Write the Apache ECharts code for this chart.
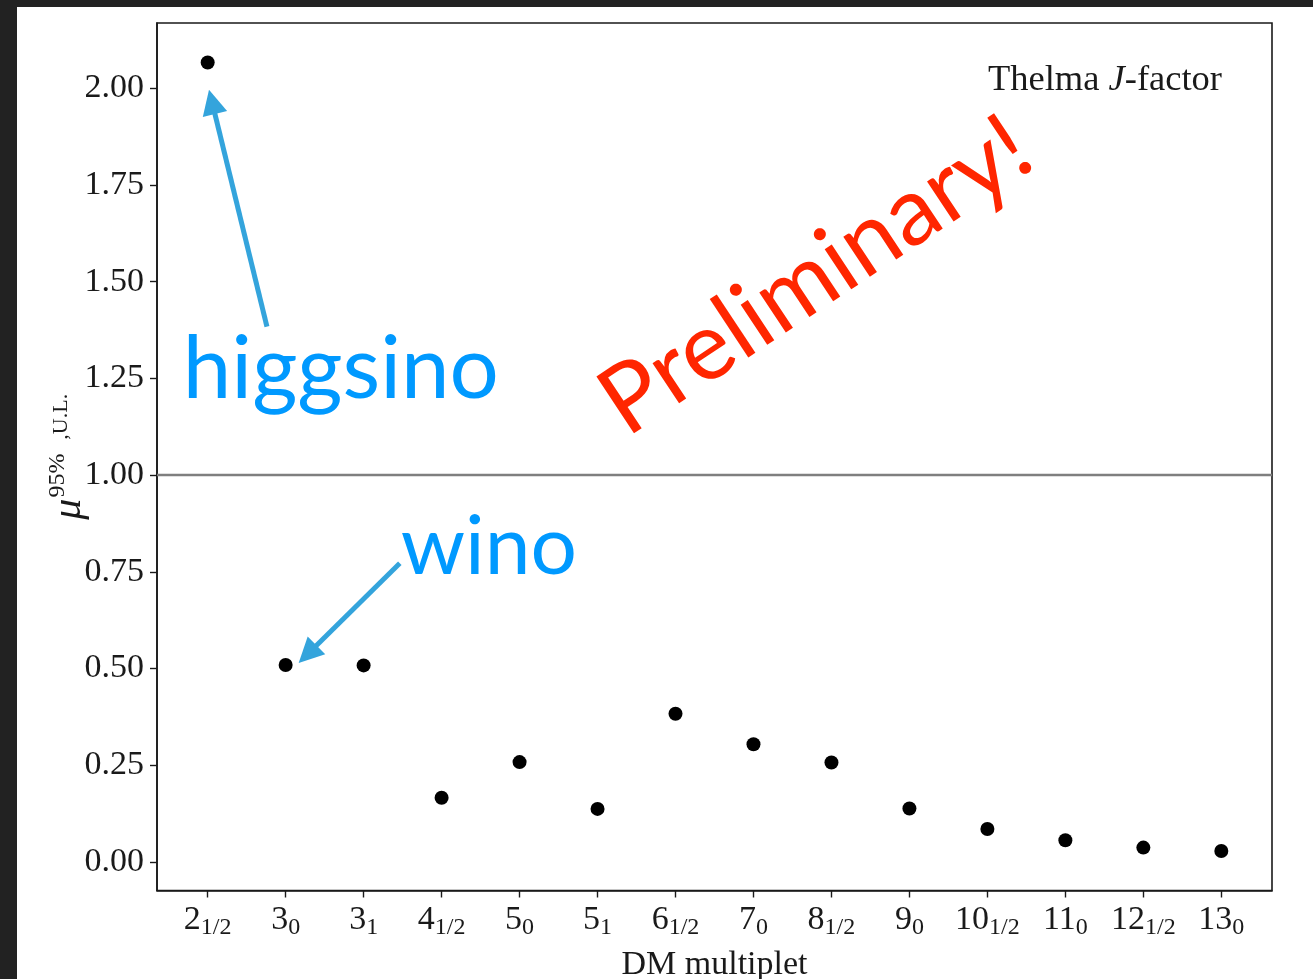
<!DOCTYPE html>
<html>
<head>
<meta charset="utf-8">
<script src="https://cdn.jsdelivr.net/npm/echarts@6/dist/echarts.min.js"></script>
<style>
  html, body { margin: 0; padding: 0; background: #222222; width: 1313px; height: 979px; overflow: hidden; }
  #chart { position: absolute; left: 17px; top: 7px; width: 1296px; height: 972px; background: #ffffff; }
</style>
</head>
<body>
<div id="chart"></div>
<script>
// DM multiplets: n with the hypercharge / spin subscript
const multipletBase = ['2', '3', '3', '4', '5', '5', '6', '7', '8', '9', '10', '11', '12', '13'];
const multipletSub  = ['1/2', '0', '1', '1/2', '0', '1', '1/2', '0', '1/2', '0', '1/2', '0', '1/2', '0'];

// 95% upper limit on the signal strength, Thelma J-factor
const muUpperLimit = [2.067, 0.509, 0.508, 0.166, 0.258, 0.137, 0.383, 0.304, 0.257, 0.138, 0.085, 0.056, 0.037, 0.028];

// y tick values
const yTicks = [0, 0.25, 0.5, 0.75, 1.0, 1.25, 1.5, 1.75, 2.0];

// exclusion threshold
const referenceLevel = 1.0;

// callouts (data coordinates)
const calloutText = ['higgsino', 'wino'];
const calloutSize = [87, 82];
const calloutAnchor = [[-0.32, 1.273], [2.475, 0.812]];
const arrowTail = [[0.76, 1.384], [2.464, 0.772]];
const arrowHead = [[0.055, 1.965], [1.281, 0.537]];

// watermark
const stampText = 'Preliminary!';
const stampAnchor = [7.80, 1.515];

const serif = '"Liberation Serif", "DejaVu Serif", serif';
const sans = 'Lato, "Open Sans", sans-serif';
const ink = '#1a1a1a';

const idx = multipletBase.map((_, i) => i);
const n = multipletBase.length;
const xPad = 0.05 * (n - 1);
const yLo = Math.min(...muUpperLimit), yHi = Math.max(...muUpperLimit);
const yPad = 0.05 * (yHi - yLo);

const chart = echarts.init(document.getElementById('chart'), null, { renderer: 'canvas' });

chart.setOption({
  animation: false,
  backgroundColor: '#ffffff',
  title: {
    text: 'Thelma {j|J}-factor',
    right: 91,
    top: 55,
    padding: 0,
    textStyle: {
      fontFamily: serif, fontSize: 36.5, fontWeight: 'normal', color: ink, lineHeight: 36,
      rich: { j: { fontFamily: serif, fontSize: 36.5, fontStyle: 'italic', color: ink, lineHeight: 36 } }
    }
  },
  grid: {
    left: 140, right: 41, top: 16, bottom: 88.5,
    outerBoundsMode: 'none',
    containLabel: false,
    show: true, borderColor: ink, borderWidth: 1.6, backgroundColor: 'transparent'
  },
  xAxis: {
    type: 'value',
    min: -xPad, max: n - 1 + xPad,
    splitLine: { show: false },
    axisLine: { onZero: false, lineStyle: { color: ink, width: 1.6 } },
    axisTick: { show: true, length: 7, customValues: idx, lineStyle: { color: ink, width: 1.4 } },
    axisLabel: {
      customValues: idx,
      margin: 13,
      formatter: v => {
        const i = Math.round(v);
        return '{b|' + multipletBase[i] + '}{s|' + multipletSub[i] + '}';
      },
      rich: {
        b: { fontFamily: serif, fontSize: 34, color: ink, lineHeight: 34, verticalAlign: 'top' },
        s: { fontFamily: serif, fontSize: 24, color: ink, lineHeight: 24, padding: [12, 0, 0, 0], verticalAlign: 'top' }
      }
    },
    name: 'DM multiplet',
    nameLocation: 'middle',
    nameGap: 58,
    nameTextStyle: { fontFamily: serif, fontSize: 34, color: ink }
  },
  yAxis: {
    type: 'value',
    min: yLo - yPad, max: yHi + yPad,
    splitLine: { show: false },
    axisLine: { onZero: false, lineStyle: { color: ink, width: 1.6 } },
    axisTick: { show: true, length: 7, customValues: yTicks, lineStyle: { color: ink, width: 1.4 } },
    axisLabel: {
      customValues: yTicks,
      margin: 13,
      formatter: v => v.toFixed(2),
      fontFamily: serif, fontSize: 34, color: ink
    },
    name: '{mu|μ}{sup|95%}{sub|,U.L.}',
    nameLocation: 'middle',
    nameRotate: 90,
    nameGap: 67,
    nameMoveOverlap: false,
    nameTextStyle: {
      color: ink,
      rich: {
        mu: { fontFamily: serif, fontStyle: 'italic', fontSize: 42, color: ink, lineHeight: 44, verticalAlign: 'bottom' },
        sup: { fontFamily: serif, fontSize: 24, color: ink, lineHeight: 24, padding: [0, 14, 0, 1], verticalAlign: 'top' },
        sub: { fontFamily: serif, fontSize: 22, color: ink, lineHeight: 22, padding: [4, 0, 0, 0], verticalAlign: 'top' }
      }
    }
  },
  series: [
    {
      name: 'mu95',
      type: 'scatter',
      symbol: 'circle',
      symbolSize: 14,
      itemStyle: { color: '#000000', opacity: 1 },
      data: muUpperLimit.map((v, i) => [i, v]),
      markLine: {
        silent: true,
        symbol: ['none', 'none'],
        label: { show: false },
        lineStyle: { color: '#7f7f7f', width: 2.4, type: 'solid', opacity: 1 },
        data: [{ yAxis: referenceLevel }]
      },
      z: 5
    },
    {
      name: 'arrows',
      type: 'lines',
      coordinateSystem: 'cartesian2d',
      silent: true,
      symbol: ['none', 'triangle'],
      symbolSize: [0, 25],
      lineStyle: { color: '#34a4dc', width: 5, opacity: 1, curveness: 0 },
      data: arrowTail.map((t, i) => ({ coords: [t, arrowHead[i]] })),
      z: 4
    },
    {
      name: 'callouts',
      type: 'scatter',
      silent: true,
      symbolSize: 0,
      itemStyle: { opacity: 1 },
      data: calloutText.map((t, i) => ({
        name: t,
        value: calloutAnchor[i],
        label: { fontSize: calloutSize[i] }
      })),
      label: {
        show: true,
        position: 'inside',
        align: 'left',
        verticalAlign: 'middle',
        formatter: p => p.name,
        fontFamily: sans,
        color: '#0099ff',
        opacity: 1
      },
      z: 6
    },
    {
      name: 'stamp',
      type: 'scatter',
      silent: true,
      symbolSize: 0,
      itemStyle: { opacity: 1 },
      data: [{ name: stampText, value: stampAnchor }],
      label: {
        show: true,
        position: 'inside',
        align: 'center',
        verticalAlign: 'middle',
        rotate: 33.5,
        formatter: p => p.name,
        fontFamily: sans,
        fontSize: 95,
        color: '#ff2600',
        opacity: 1
      },
      z: 6
    }
  ]
});
</script>
</body>
</html>
